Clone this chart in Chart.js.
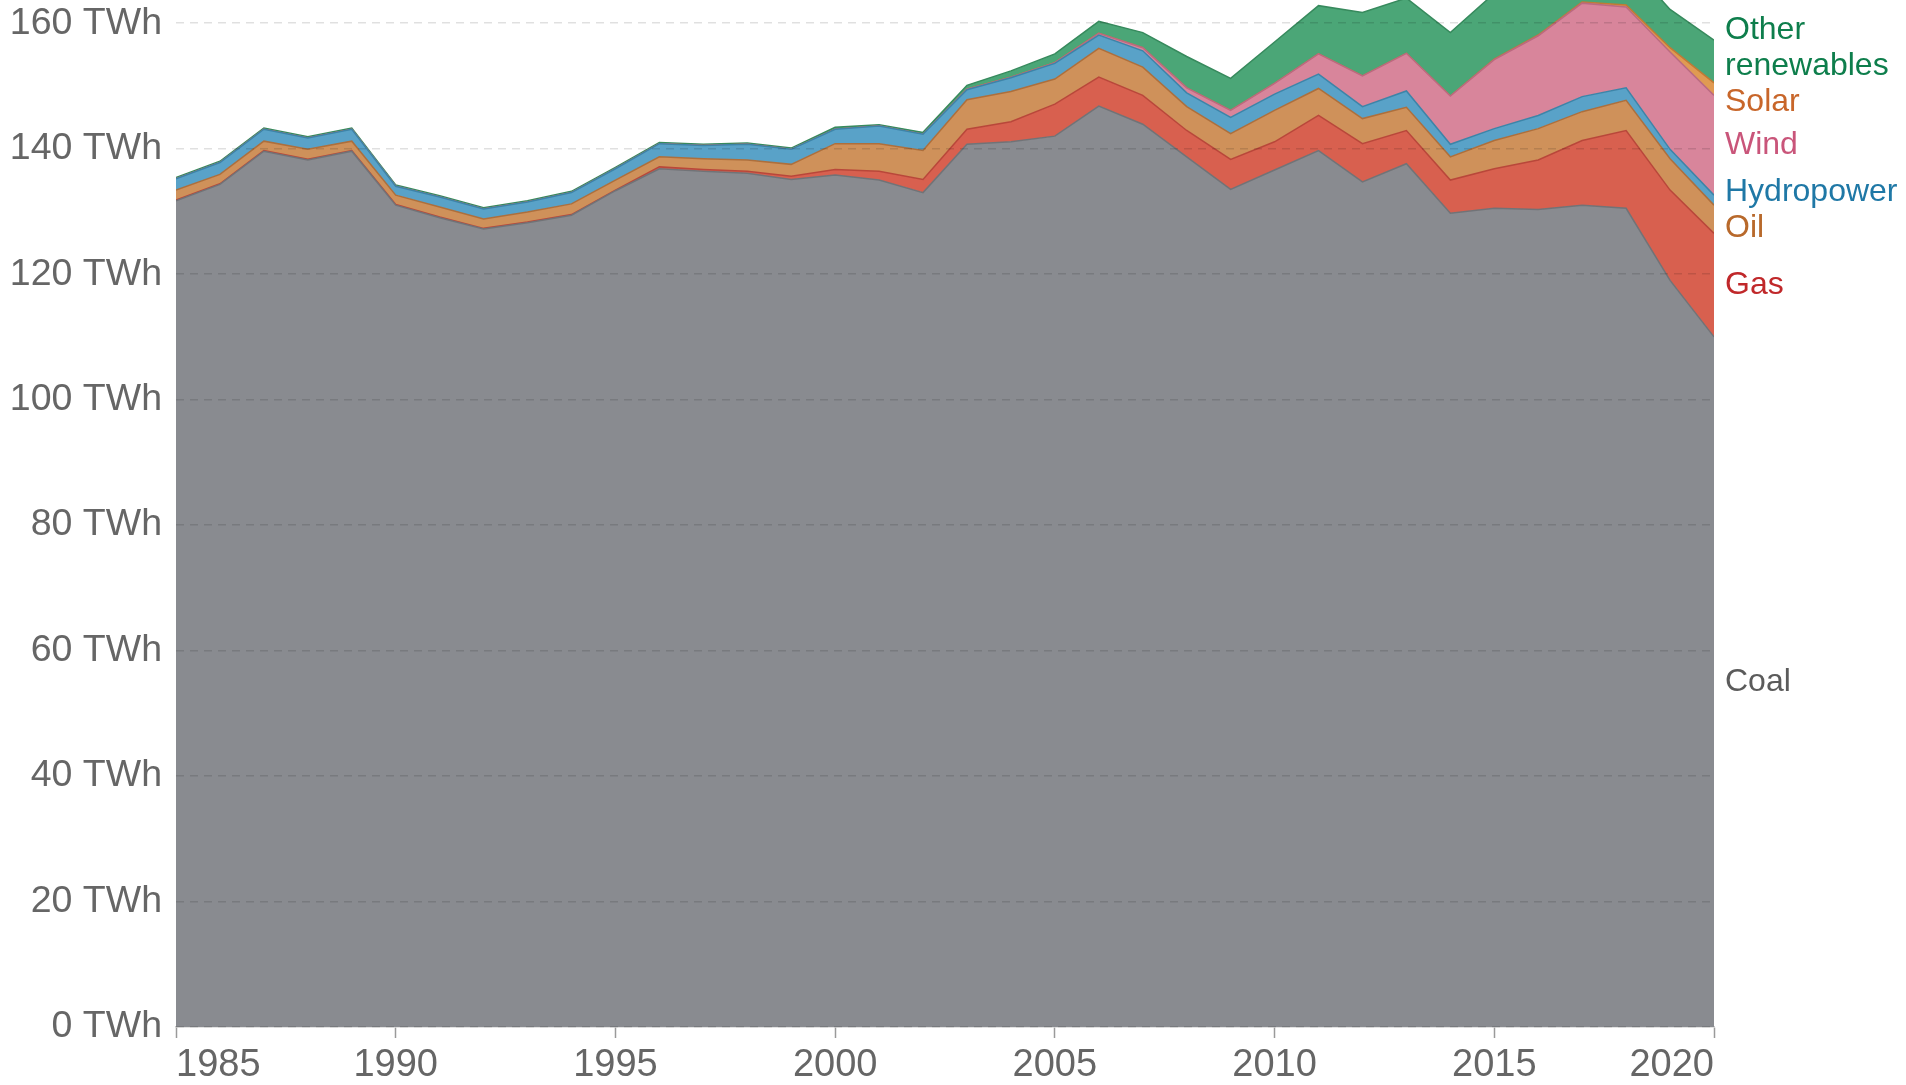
<!DOCTYPE html>
<html>
<head>
<meta charset="utf-8">
<script src="https://cdn.jsdelivr.net/npm/chart.js@4.4.1/dist/chart.umd.min.js"></script>
<style>
  html, body { margin: 0; padding: 0; background: #fff; }
  #chart { display: block; }
</style>
</head>
<body>
<canvas id="chart" width="1906" height="1085"></canvas>
<script>
// Electricity production by source (TWh), 1985-2020
const years = [1985,1986,1987,1988,1989,1990,1991,1992,1993,1994,1995,1996,1997,1998,1999,2000,
  2001,2002,2003,2004,2005,2006,2007,2008,2009,2010,2011,2012,2013,2014,2015,2016,2017,2018,2019,2020];

const coal = [131.7,134.3,139.6,138.2,139.6,131.0,129.0,127.2,128.2,129.4,133.3,136.8,136.4,136.1,135.1,135.8,
  135.0,133.0,140.7,141.1,142.0,146.8,143.9,138.7,133.5,136.6,139.7,134.7,137.6,129.7,130.5,130.3,131.0,130.5,119.0,110.0];
const gas = [0.1,0.1,0.1,0.1,0.1,0.1,0.1,0.1,0.1,0.1,0.1,0.3,0.3,0.3,0.5,0.9,
  1.4,2.1,2.4,3.2,5.1,4.6,4.6,4.2,4.8,4.5,5.6,6.1,5.3,5.3,6.3,7.9,10.3,12.4,14.4,16.5];
const oil = [1.6,1.5,1.5,1.6,1.5,1.5,1.6,1.5,1.6,1.7,1.6,1.6,1.7,1.8,1.9,4.1,
  4.4,4.6,4.7,4.8,4.0,4.6,4.5,3.8,4.1,5.0,4.3,4.0,3.7,3.7,4.5,5.0,4.6,4.8,5.0,4.5];
const hydro = [1.8,1.9,1.9,1.8,1.9,1.4,1.6,1.6,1.6,1.8,1.8,2.1,2.1,2.5,2.4,2.3,
  2.8,2.6,1.6,2.2,2.5,2.1,2.6,2.2,2.6,2.6,2.3,1.9,2.6,2.0,1.9,2.1,2.4,2.0,1.5,1.6];
const wind = [0,0,0,0,0,0,0,0,0,0,0,0,0,0,0,0,
  0,0,0.1,0.1,0.1,0.3,0.5,0.8,1.1,1.7,3.2,4.9,6.0,7.7,11.0,12.7,14.9,12.9,15.5,15.9];
const solar = [0,0,0,0,0,0,0,0,0,0,0,0,0,0,0,0,
  0,0,0,0,0,0,0,0,0,0,0,0,0,0,0.06,0.12,0.17,0.3,0.7,2.0];
const otherRenewables = [0.2,0.2,0.2,0.2,0.2,0.2,0.2,0.2,0.2,0.2,0.2,0.2,0.2,0.2,0.2,0.3,
  0.2,0.3,0.6,1.0,1.4,1.9,2.4,5.0,5.1,6.6,7.7,10.1,8.8,10.1,10.5,8.4,7.2,7.0,6.1,6.8];

const series = [
  { label: 'Coal', lines: ['Coal'], data: coal, fill: '#898b90', line: '#717377', text: '#5b5b5b' },
  { label: 'Gas', lines: ['Gas'], data: gas, fill: '#d8604f', line: '#b9473a', text: '#c0282a' },
  { label: 'Oil', lines: ['Oil'], data: oil, fill: '#cf915a', line: '#ad6f3c', text: '#b8692b' },
  { label: 'Hydropower', lines: ['Hydropower'], data: hydro, fill: '#59a2c8', line: '#3d84a8', text: '#1f78a6' },
  { label: 'Wind', lines: ['Wind'], data: wind, fill: '#d8859b', line: '#bb6a80', text: '#c9557a' },
  { label: 'Solar', lines: ['Solar'], data: solar, fill: '#e09a52', line: '#c07a35', text: '#c8662a' },
  { label: 'Other renewables', lines: ['Other', 'renewables'], data: otherRenewables, fill: '#4ba677', line: '#378a5d', text: '#0e7e4c' }
];

const FONT = '"Liberation Sans", Arial, Helvetica, sans-serif';

// Right-side labels placed at the last year, nudged apart when they overlap
const endLabels = {
  id: 'endLabels',
  afterDraw(chart) {
    const ctx = chart.ctx;
    const yScale = chart.scales.y;
    const last = years.length - 1;
    const lineH = 36;
    let base = 0;
    const items = series.map(s => {
      const top = base + s.data[last];
      const mid = (yScale.getPixelForValue(base) + yScale.getPixelForValue(top)) / 2;
      base = top;
      return { s, y: mid, h: s.lines.length * lineH };
    });
    items.sort((a, b) => a.y - b.y);
    for (let iter = 0; iter < 60; iter++) {
      for (let i = 0; i < items.length - 1; i++) {
        const a = items[i], b = items[i + 1];
        const need = (a.h + b.h) / 2;
        const gap = b.y - a.y;
        if (gap < need) {
          const d = (need - gap) / 2;
          a.y -= d;
          b.y += d;
        }
      }
    }
    ctx.save();
    ctx.font = '32px ' + FONT;
    ctx.textAlign = 'left';
    ctx.textBaseline = 'middle';
    const x = chart.chartArea.right + 11;
    items.forEach(it => {
      ctx.fillStyle = it.s.text;
      const n = it.s.lines.length;
      it.s.lines.forEach((t, k) => {
        ctx.fillText(t, x, it.y + (k - (n - 1) / 2) * lineH);
      });
    });
    ctx.restore();
  }
};

new Chart(document.getElementById('chart'), {
  type: 'line',
  data: {
    datasets: series.map((s, i) => ({
      label: s.label,
      data: years.map((yr, k) => ({ x: yr, y: s.data[k] })),
      backgroundColor: s.fill,
      borderColor: s.line,
      borderWidth: 1.5,
      pointRadius: 0,
      tension: 0,
      fill: i === 0 ? 'origin' : '-1'
    }))
  },
  options: {
    responsive: false,
    animation: false,
    layout: { padding: { top: 0, right: 192, bottom: 0, left: 0 } },
    plugins: { legend: { display: false }, tooltip: { enabled: false } },
    scales: {
      x: {
        type: 'linear',
        min: 1985,
        max: 2020,
        grid: { drawOnChartArea: false, drawTicks: true, tickLength: 11, tickColor: '#9a9a9a', tickWidth: 1.5 },
        border: { display: true, color: '#c8c8c8', width: 1.5 },
        ticks: {
          stepSize: 5,
          align: 'inner',
          autoSkip: false,
          maxRotation: 0,
          padding: 5,
          color: '#666',
          font: { family: FONT, size: 38 },
          callback: v => String(v)
        },
        afterFit: scale => {
          scale.height = 58;
          scale.paddingLeft = 0;
          scale.paddingRight = 0;
        }
      },
      y: {
        stacked: true,
        min: 0,
        max: 163.7,
        grid: { color: 'rgba(0,0,0,0.12)', lineWidth: 1.5, drawTicks: false, z: 1 },
        border: { display: false, dash: [8, 6] },
        ticks: {
          stepSize: 20,
          includeBounds: false,
          padding: 14,
          color: '#666',
          font: { family: FONT, size: 37.5 },
          callback: v => v + ' TWh'
        },
        afterFit: scale => {
          scale.width = 176;
          scale.paddingTop = 0;
          scale.paddingBottom = 0;
        }
      }
    }
  },
  plugins: [endLabels]
});
</script>
</body>
</html>
